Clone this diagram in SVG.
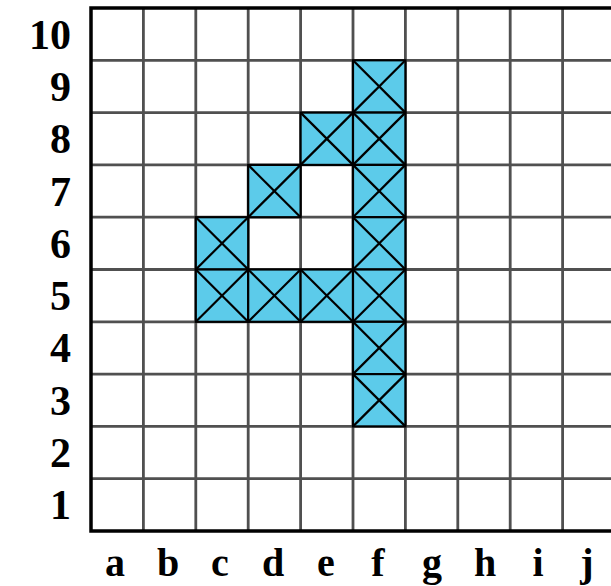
<svg xmlns="http://www.w3.org/2000/svg" xmlns:xlink="http://www.w3.org/1999/xlink" width="611" height="586" viewBox="0 0 611 586">
<style>
.grid{stroke:#505050;stroke-width:2.8;fill:none}
.border{stroke:#000;stroke-width:3.5;fill:none}
.cell rect{fill:#5ccbea;stroke:#000;stroke-width:2.2}
.cell line{stroke:#000;stroke-width:2.2}
.lbl{font-family:"Liberation Serif","DejaVu Serif",serif;font-weight:bold;font-size:42px;fill:#000}
.col{font-size:40px}
</style>
<defs>
<g id="xcell" class="cell">
<rect x="0" y="0" width="52.4" height="52.3"/>
<line x1="0" y1="0" x2="52.4" y2="52.3"/>
<line x1="52.4" y1="0" x2="0" y2="52.3"/>
</g>
</defs>
<rect width="611" height="586" fill="#fff"/>
<g id="grid">
<path class="grid" d="M143.4 8V531M195.8 8V531M248.2 8V531M300.6 8V531M353 8V531M405.4 8V531M457.8 8V531M510.2 8V531M562.6 8V531M91 60.3H615M91 112.6H615M91 164.9H615M91 217.2H615M91 269.5H615M91 321.8H615M91 374.1H615M91 426.4H615M91 478.7H615"/>
</g>
<g id="cells">
<g id="f9" class="cell"><use xlink:href="#xcell" x="353" y="60.3"/></g>
<g id="e8" class="cell"><use xlink:href="#xcell" x="300.6" y="112.6"/></g>
<g id="f8" class="cell"><use xlink:href="#xcell" x="353" y="112.6"/></g>
<g id="d7" class="cell"><use xlink:href="#xcell" x="248.2" y="164.9"/></g>
<g id="f7" class="cell"><use xlink:href="#xcell" x="353" y="164.9"/></g>
<g id="c6" class="cell"><use xlink:href="#xcell" x="195.8" y="217.2"/></g>
<g id="f6" class="cell"><use xlink:href="#xcell" x="353" y="217.2"/></g>
<g id="c5" class="cell"><use xlink:href="#xcell" x="195.8" y="269.5"/></g>
<g id="d5" class="cell"><use xlink:href="#xcell" x="248.2" y="269.5"/></g>
<g id="e5" class="cell"><use xlink:href="#xcell" x="300.6" y="269.5"/></g>
<g id="f5" class="cell"><use xlink:href="#xcell" x="353" y="269.5"/></g>
<g id="f4" class="cell"><use xlink:href="#xcell" x="353" y="321.8"/></g>
<g id="f3" class="cell"><use xlink:href="#xcell" x="353" y="374.1"/></g>
</g>
<g id="frame">
<path class="border" d="M615 8H91V531H615"/>
</g>
<g id="row-labels" class="lbl" text-anchor="end">
<text x="71" y="49">10</text>
<text x="71" y="101">9</text>
<text x="71" y="153">8</text>
<text x="71" y="206">7</text>
<text x="71" y="258">6</text>
<text x="71" y="310">5</text>
<text x="71" y="362">4</text>
<text x="71" y="415">3</text>
<text x="71" y="467">2</text>
<text x="71" y="519">1</text>
</g>
<g id="col-labels" class="lbl col" text-anchor="middle">
<text x="115" y="576">a</text>
<text x="168" y="576">b</text>
<text x="220" y="576">c</text>
<text x="273" y="576">d</text>
<text x="326" y="576">e</text>
<text x="378" y="576">f</text>
<text x="432" y="576">g</text>
<text x="485" y="576">h</text>
<text x="538" y="576">i</text>
<text x="587" y="576">j</text>
</g>
</svg>
